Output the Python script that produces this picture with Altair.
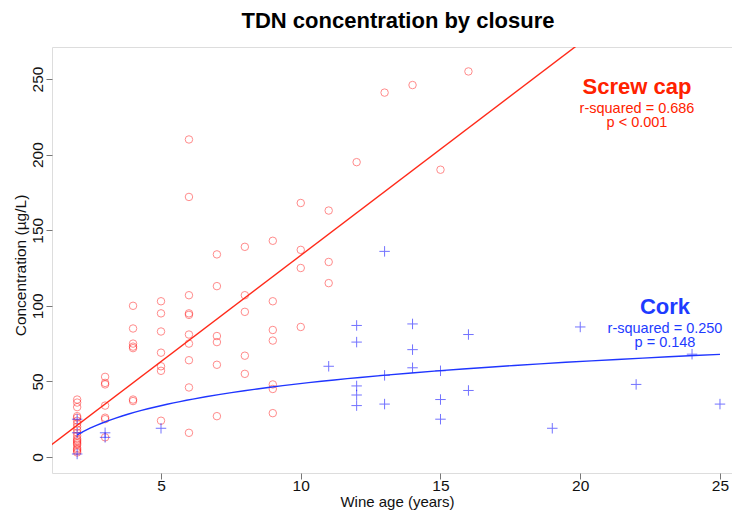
import altair as alt
import pandas as pd

FONT = "Liberation Sans"

# Screw cap closures: wine age (years) and TDN concentration (ug/L)
screw_age = [2, 2, 2, 2, 2, 2, 2, 2, 2, 2, 2, 2, 2, 2, 2, 2, 2, 2, 2, 2,
             3, 3, 3, 3, 3, 3, 3,
             4, 4, 4, 4, 4, 4, 4,
             5, 5, 5, 5, 5, 5, 5,
             6, 6, 6, 6, 6, 6, 6, 6, 6, 6,
             7, 7, 7, 7, 7, 7,
             8, 8, 8, 8, 8,
             9, 9, 9, 9, 9, 9, 9,
             10, 10, 10, 10,
             11, 11, 11,
             12, 13, 14, 15, 16]
screw_conc = [38, 36, 33, 27, 26, 24, 22, 20, 18, 16, 14, 12, 11, 10, 9, 8, 6, 5, 4, 3,
              53, 49, 48, 34, 26, 25, 13,
              100, 85, 75, 73, 72, 38, 37,
              103, 95, 83, 69, 60, 57, 24,
              210, 172, 107, 95, 94, 81, 75, 64, 46, 16,
              134, 113, 80, 76, 61, 27,
              139, 107, 96, 67, 55,
              143, 103, 84, 77, 48, 45, 29,
              168, 137, 125, 86,
              163, 129, 115,
              195, 241, 246, 190, 255]

# Cork closures
cork_age = [2, 2, 2, 3, 3, 5, 11, 12, 12, 12, 12, 12, 13, 13, 13,
            14, 14, 14, 15, 15, 15, 16, 16, 19, 20, 22, 24, 25]
cork_conc = [25, 16, 2, 16, 13, 19, 60, 87, 76, 47, 41, 34, 136, 54, 35,
             88, 71, 59, 57, 38, 25, 81, 44, 19, 86, 48, 68, 35]

x_ticks = [5, 10, 15, 20, 25]
y_ticks = [0, 50, 100, 150, 200, 250]

title_text = "TDN concentration by closure"
x_title = "Wine age (years)"
y_title = "Concentration (\u00b5g/L)"
screw_label = ["Screw cap", "r-squared = 0.686", "p < 0.001"]
cork_label = ["Cork", "r-squared = 0.250", "p = 0.148"]

RED_PT = "#FF0000"
RED_LINE = "#FF2A1A"
RED_TXT = "#FF2200"
BLUE_PT = "#0000FF"
BLUE_LINE = "#1F35FF"
BLUE_TXT = "#1E3BFF"
GREY = "#777777"

screw_df = pd.DataFrame({"age": screw_age, "conc": screw_conc})
cork_df = pd.DataFrame({"age": cork_age, "conc": cork_conc})

xscale = alt.Scale(domain=[1.10, 25.43], nice=False, zero=False)
yscale = alt.Scale(domain=[-10.58, 271.16], nice=False, zero=False)

xaxis = alt.Axis(values=x_ticks, title=x_title, labelFontSize=15.5, titleFontSize=15,
                 labelFont=FONT, titleFont=FONT, labelColor="#111", titleColor="#111",
                 titleFontWeight="normal", tickSize=6, tickColor=GREY,
                 labelBaseline="alphabetic", labelPadding=11, labelFlush=False,
                 titleBaseline="alphabetic", titleX=345, titleY=33, titleAlign="center",
                 domain=False, grid=False)
yaxis = alt.Axis(values=y_ticks, title=y_title, labelFontSize=15.5, titleFontSize=15.5,
                 labelFont=FONT, titleFont=FONT, labelColor="#111", titleColor="#111",
                 titleFontWeight="normal", tickSize=6, tickColor=GREY,
                 labelAngle=270, labelAlign="center", labelBaseline="alphabetic",
                 labelPadding=4, labelFlush=False,
                 titleAngle=270, titleBaseline="alphabetic", titleX=-27, titleY=218,
                 titleAlign="center", domain=False, grid=False)

base_x = alt.X("age:Q", scale=xscale, axis=xaxis)
base_y = alt.Y("conc:Q", scale=yscale, axis=yaxis)

screw_pts = alt.Chart(screw_df).mark_point(
    shape="circle", filled=False, size=56, strokeWidth=1, color=RED_PT, opacity=0.45
).encode(x=base_x, y=base_y)

cork_pts = alt.Chart(cork_df).mark_point(
    shape="M-1,0L1,0M0,-1L0,1", filled=False, size=110, strokeWidth=1,
    color=BLUE_PT, opacity=0.55
).encode(x="age:Q", y="conc:Q")

screw_fit = alt.Chart(screw_df).transform_regression(
    "age", "conc", method="linear", extent=[1.0, 26.0]
).mark_line(color=RED_LINE, strokeWidth=1.4, clip=True).encode(x="age:Q", y="conc:Q")

cork_fit = alt.Chart(cork_df).transform_regression(
    "age", "conc", method="log", extent=[2, 25]
).mark_line(color=BLUE_LINE, strokeWidth=1.4, clip=True).encode(x="age:Q", y="conc:Q")


def label(text, px, py, color, size, bold):
    return alt.Chart(pd.DataFrame({"t": [text]})).mark_text(
        font=FONT, fontSize=size, fontWeight="bold" if bold else "normal",
        color=color, align="center", baseline="alphabetic"
    ).encode(text="t:N", x=alt.value(px), y=alt.value(py))


annots = [
    label(title_text, 346, -19, "#000000", 22, True),
    label(screw_label[0], 585, 47, RED_TXT, 22, True),
    label(screw_label[1], 585, 66, RED_TXT, 14.5, False),
    label(screw_label[2], 585, 79.5, RED_TXT, 14.5, False),
    label(cork_label[0], 613, 267, BLUE_TXT, 22, True),
    label(cork_label[1], 613, 286, BLUE_TXT, 14.5, False),
    label(cork_label[2], 613, 299.5, BLUE_TXT, 14.5, False),
]

chart = alt.layer(screw_pts, cork_pts, screw_fit, cork_fit, *annots).properties(
    width=680,
    height=426,
    autosize=alt.AutoSizeParams(type="none"),
    padding={"left": 44, "top": 39, "right": 0, "bottom": 37},
).configure_view(stroke=GREY, strokeWidth=1).configure(background="white")

chart.save("out.html", embed_options={"renderer": "svg", "actions": False})
